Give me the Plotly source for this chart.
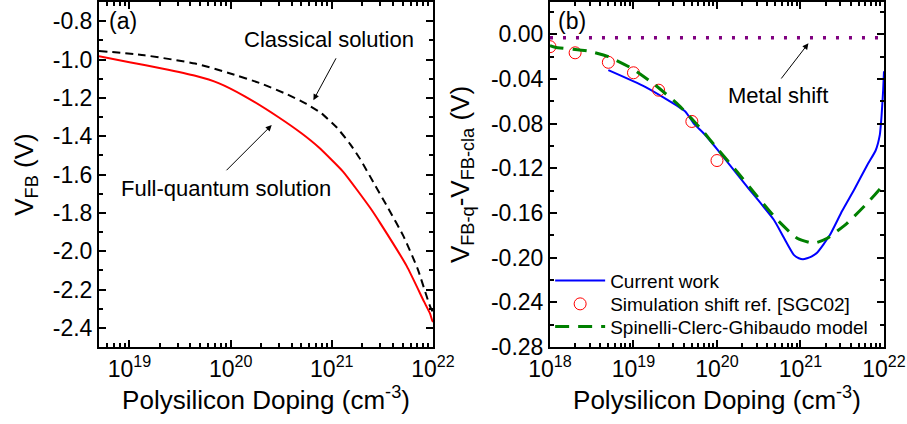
import plotly.graph_objects as go

# ---------------- data ----------------
# Panel (a): flat-band voltage vs polysilicon doping
dop_cla = [5.0e18, 1.41e19, 4.47e19, 9.55e19, 2.04e20, 3.55e20, 5.62e20, 7.94e20,
           1.12e21, 1.51e21, 1.91e21, 2.57e21, 3.55e21, 5.13e21, 7.08e21, 9.33e21, 1.0e22]
vfb_cla = [-0.955, -0.978, -1.021, -1.070, -1.127, -1.180, -1.232, -1.282,
           -1.355, -1.440, -1.520, -1.640, -1.770, -1.924, -2.095, -2.287, -2.320]

dop_q = [5.0e18, 1.0e19, 2.09e19, 4.47e19, 7.59e19, 1.38e20, 2.95e20, 5.01e20,
         7.41e20, 1.29e21, 2.40e21, 3.02e21, 5.50e21, 8.13e21, 9.33e21, 9.77e21, 1.0e22]
vfb_q = [-0.983, -1.014, -1.047, -1.085, -1.123, -1.192, -1.300, -1.385,
         -1.458, -1.585, -1.775, -1.855, -2.078, -2.262, -2.325, -2.358, -2.370]

# Panel (b): V_FB-q - V_FB-cla
dop_cur = [5.0e18, 1.38e19, 4.17e19, 5.25e19, 6.92e19, 1.10e20, 2.29e20, 4.79e20,
           6.31e20, 8.32e20, 9.55e20, 1.07e21, 1.20e21, 1.35e21, 1.58e21, 2.24e21,
           3.16e21, 4.47e21, 6.31e21, 7.94e21, 8.91e21, 9.33e21, 9.77e21, 1.0e22]
dv_cur = [-0.032, -0.047, -0.069, -0.0797, -0.0886, -0.1065, -0.1364, -0.166,
          -0.182, -0.1975, -0.2005, -0.2014, -0.2005, -0.199, -0.1955, -0.180,
          -0.158, -0.138, -0.117, -0.104, -0.090, -0.074, -0.050, -0.033]

dop_sim = [1e18, 2e18, 5e18, 1e19, 2e19, 5e19, 1e20]
dv_sim = [-0.011, -0.0165, -0.025, -0.0344, -0.050, -0.078, -0.113]

dop_scg = [1.0e18, 1.15e18, 2.88e18, 5.0e18, 9.55e18, 1.82e19, 3.47e19, 6.61e19,
           1.0e20, 1.74e20, 3.02e20, 5.25e20, 9.12e20, 1.45e21, 2.09e21, 3.63e21,
           6.31e21, 9.55e21, 1.0e22]
dv_scg = [-0.0100, -0.0115, -0.015, -0.020, -0.0305, -0.0454, -0.0633, -0.0857,
          -0.102, -0.123, -0.145, -0.166, -0.1826, -0.187, -0.1826, -0.169,
          -0.151, -0.136, -0.134]

dop_metal = [1e18, 1e22]
dv_metal = [-0.003, -0.003]

xtick_a = [1e19, 1e20, 1e21, 1e22]
xtick_b = [1e18, 1e19, 1e20, 1e21, 1e22]
xtick_text_a = ["10<sup>19</sup>", "10<sup>20</sup>", "10<sup>21</sup>", "10<sup>22</sup>"]
xtick_text_b = ["10<sup>18</sup>"] + xtick_text_a
ytick_a = [-2.4, -2.2, -2.0, -1.8, -1.6, -1.4, -1.2, -1.0, -0.8]
ytick_text_a = ["-2.4", "-2.2", "-2.0", "-1.8", "-1.6", "-1.4", "-1.2", "-1.0", "-0.8"]
ytick_b = [-0.28, -0.24, -0.20, -0.16, -0.12, -0.08, -0.04, 0.0]
ytick_text_b = ["-0.28", "-0.24", "-0.20", "-0.16", "-0.12", "-0.08", "-0.04", "0.00"]

# ---------------- figure ----------------
FONT = "Liberation Sans, Arial, sans-serif"

minor_x_a = [m * 10.0 ** e for e in range(18, 22) for m in range(2, 10) if m * 10.0 ** e >= 5e18]
minor_x_b = [m * 10.0 ** e for e in range(18, 22) for m in range(2, 10)]
minor_y_a = [round(-2.5 + 0.1 * i, 2) for i in range(19)]
minor_y_b = [round(-0.28 + 0.02 * i, 2) for i in range(16)]

fig = go.Figure()

fig.add_trace(go.Scatter(x=dop_cla, y=vfb_cla, mode="lines", line=dict(color="black", width=2, dash="8px,5px", shape="spline", smoothing=0.5),
                         xaxis="x", yaxis="y", showlegend=False, name="Classical solution"))
fig.add_trace(go.Scatter(x=dop_q, y=vfb_q, mode="lines", line=dict(color="#FF0000", width=2, shape="spline", smoothing=0.5),
                         xaxis="x", yaxis="y", showlegend=False, name="Full-quantum solution"))

fig.add_trace(go.Scatter(x=dop_metal, y=dv_metal, mode="lines", line=dict(color="#800080", width=3.5, dash="3px,10px"),
                         xaxis="x2", yaxis="y2", showlegend=False, name="Metal shift"))
fig.add_trace(go.Scatter(x=dop_cur, y=dv_cur, mode="lines", line=dict(color="#0000FF", width=2, shape="spline", smoothing=0.5),
                         xaxis="x2", yaxis="y2", name="Current work", legend="legend"))
fig.add_trace(go.Scatter(x=dop_sim, y=dv_sim, mode="markers",
                         marker=dict(symbol="circle-open", size=12, color="#FF0000", line=dict(width=1)),
                         xaxis="x2", yaxis="y2", name="Simulation shift ref. [SGC02]", legend="legend2"))
fig.add_trace(go.Scatter(x=dop_scg, y=dv_scg, mode="lines", line=dict(color="#008000", width=3, dash="14px,9px", shape="spline", smoothing=0.5),
                         xaxis="x2", yaxis="y2", name="Spinelli-Clerc-Ghibaudo model", legend="legend3"))

axis_common = dict(showline=True, linecolor="black", linewidth=2, mirror="allticks",
                   ticks="inside", ticklen=7, tickwidth=2, tickcolor="black",
                   showgrid=False, zeroline=False, automargin=False,
                   tickfont=dict(family=FONT, size=23, color="black"))

legend_common = dict(xanchor="left", yanchor="middle", bgcolor="rgba(0,0,0,0)", itemwidth=50,
                     font=dict(family=FONT, size=19, color="black"))

fig.update_layout(
    width=907, height=424,
    margin=dict(l=99, r=23, t=2, b=77),
    paper_bgcolor="white", plot_bgcolor="white",
    font=dict(family=FONT, color="black"),
    xaxis=dict(domain=[0, 0.4255], type="log", range=[18.699, 22],
               tickmode="array", tickvals=xtick_a, ticktext=xtick_text_a,
               minor=dict(tickmode="array", tickvals=minor_x_a, ticks="inside", ticklen=4, tickwidth=2, tickcolor="black"),
               title=dict(text="Polysilicon Doping (cm<sup>-3</sup>)", font=dict(family=FONT, size=26), standoff=10),
               anchor="y", **axis_common),
    yaxis=dict(domain=[0, 1], range=[-2.5, -0.7], tickmode="array", tickvals=ytick_a, ticktext=ytick_text_a,
               minor=dict(tickmode="array", tickvals=minor_y_a, ticks="inside", ticklen=4, tickwidth=2, tickcolor="black"),
               title=dict(text="V<sub>FB</sub> (V)", font=dict(family=FONT, size=26), standoff=12),
               anchor="x", **axis_common),
    xaxis2=dict(domain=[0.5745, 1], type="log", range=[18, 22],
                tickmode="array", tickvals=xtick_b, ticktext=xtick_text_b,
                minor=dict(tickmode="array", tickvals=minor_x_b, ticks="inside", ticklen=4, tickwidth=2, tickcolor="black"),
                title=dict(text="Polysilicon Doping (cm<sup>-3</sup>)", font=dict(family=FONT, size=26), standoff=10),
                anchor="y2", **axis_common),
    yaxis2=dict(domain=[0, 1], range=[-0.28, 0.029], tickmode="array", tickvals=ytick_b, ticktext=ytick_text_b,
                minor=dict(tickmode="array", tickvals=minor_y_b, ticks="inside", ticklen=4, tickwidth=2, tickcolor="black"),
                title=dict(text="V<sub>FB-q</sub>-V<sub>FB-cla</sub> (V)", font=dict(family=FONT, size=26), standoff=14),
                anchor="x2", **axis_common),
    legend=dict(x=0.5747, y=0.1922, **legend_common),
    legend2=dict(x=0.5747, y=0.1246, **legend_common),
    legend3=dict(x=0.5747, y=0.0588, **legend_common),
)

ann_font = dict(family=FONT, size=22, color="black")
annotations = [
    dict(x=18.934, y=-0.8016, xref="x", yref="y", text="(a)", showarrow=False, font=dict(family=FONT, size=23)),
    dict(x=20.973, y=-0.895, xref="x", yref="y", text="Classical solution", showarrow=False, font=ann_font),
    dict(x=19.956, y=-1.674, xref="x", yref="y", text="Full-quantum solution", showarrow=False, font=ann_font),
    dict(x=20.818, y=-1.212, xref="x", yref="y", text="", showarrow=True, ax=23.4, ay=-43.3,
         arrowhead=2, arrowsize=1.2, arrowwidth=1, arrowcolor="black"),
    dict(x=20.406, y=-1.342, xref="x", yref="y", text="", showarrow=True, ax=-46.7, ay=46.7,
         arrowhead=2, arrowsize=1.2, arrowwidth=1, arrowcolor="black"),
    dict(x=18.266, y=0.0119, xref="x2", yref="y2", text="(b)", showarrow=False, font=dict(family=FONT, size=23)),
    dict(x=20.735, y=-0.0543, xref="x2", yref="y2", text="Metal shift", showarrow=False, font=ann_font),
    dict(x=21.095, y=-0.008, xref="x2", yref="y2", text="", showarrow=True, ax=-28.3, ay=36.7,
         arrowhead=2, arrowsize=1.2, arrowwidth=1, arrowcolor="black"),
]
fig.update_layout(annotations=annotations)

fig.write_html("out.html")
